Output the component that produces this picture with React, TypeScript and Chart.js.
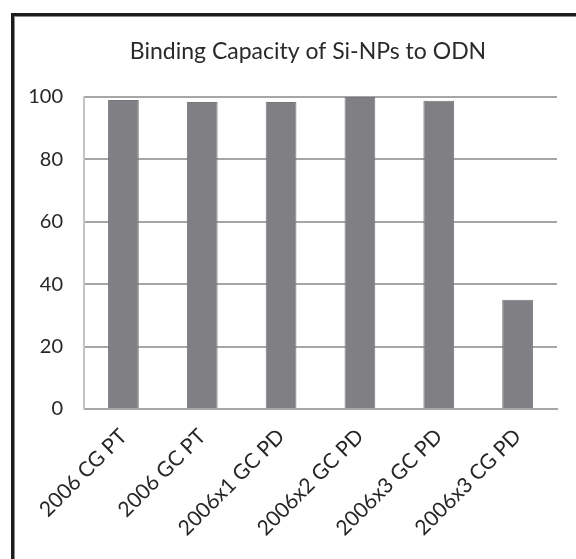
import React, { useEffect, useRef } from "react";
import { Chart, registerables } from "chart.js";

Chart.register(...registerables);

const categories = ["2006 CG PT", "2006 GC PT", "2006x1 GC PD", "2006x2 GC PD", "2006x3 GC PD", "2006x3 CG PD"];
const bindingCapacity = [99, 98.4, 98.4, 100, 98.8, 35];
const yTicks = [0, 20, 40, 60, 80, 100];
const titleText = "Binding Capacity of Si-NPs to ODN";

const W = 576;
const H = 559;

const framePlugin = {
  id: "frameAndTitle",
  beforeDraw(chart: any) {
    const ctx = chart.ctx;
    ctx.save();
    ctx.fillStyle = "#ffffff";
    ctx.fillRect(0, 0, W, H);
    ctx.fillStyle = "#1c1c1c";
    ctx.fillRect(11, 13, W - 11, 3);
    ctx.fillRect(11, 13, 3, H - 13);
    ctx.fillStyle = "#8a8a8a";
    ctx.fillRect(14, 16, W - 14, 1);
    ctx.fillRect(14, 16, 1, H - 16);
    ctx.restore();
  },
  afterDraw(chart: any) {
    const ctx = chart.ctx;
    ctx.save();
    ctx.font = "23px Lato";
    ctx.fillStyle = "#2a2a2a";
    ctx.textAlign = "center";
    ctx.textBaseline = "middle";
    ctx.fillText(titleText, 308, 52);
    ctx.restore();
  },
};

export default function App() {
  const ref = useRef<HTMLCanvasElement | null>(null);
  useEffect(() => {
    if (!ref.current) return;
    const chart = new Chart(ref.current, {
      type: "bar",
      data: {
        labels: categories,
        datasets: [
          {
            data: bindingCapacity,
            backgroundColor: "#808084",
            borderColor: "#77777b",
            borderWidth: 1,
            categoryPercentage: 1,
            barPercentage: 0.39,
          },
        ],
      },
      options: {
        animation: false,
        responsive: false,
        layout: { padding: { top: 97, right: 19, left: 0, bottom: 0 } },
        plugins: { legend: { display: false }, tooltip: { enabled: false }, title: { display: false } },
        scales: {
          x: {
            grid: { display: false },
            border: { display: true, color: "#a6a6a6", width: 2 },
            ticks: {
              maxRotation: 45,
              minRotation: 45,
              padding: 7,
              color: "#262626",
              font: { family: "Lato", size: 21 },
            },
            afterFit: (s: any) => {
              s.height = 150;
            },
          },
          y: {
            min: 0,
            max: 100,
            afterBuildTicks: (s: any) => {
              s.ticks = yTicks.map((v) => ({ value: v }));
            },
            grid: { color: "#a6a6a6", lineWidth: 2, drawTicks: false },
            border: { display: true, color: "#c4c4c4", width: 2 },
            ticks: {
              padding: 21,
              color: "#262626",
              font: { family: "Lato", size: 20 },
            },
            afterFit: (s: any) => {
              s.width = 84;
            },
          },
        },
      },
      plugins: [framePlugin],
    });
    return () => chart.destroy();
  }, []);
  return (
    <div style={{ position: "absolute", left: 0, top: 0, width: W, height: H, background: "#fff" }}>
      <canvas ref={ref} width={W} height={H} style={{ width: W, height: H, display: "block" }} />
    </div>
  );
}
